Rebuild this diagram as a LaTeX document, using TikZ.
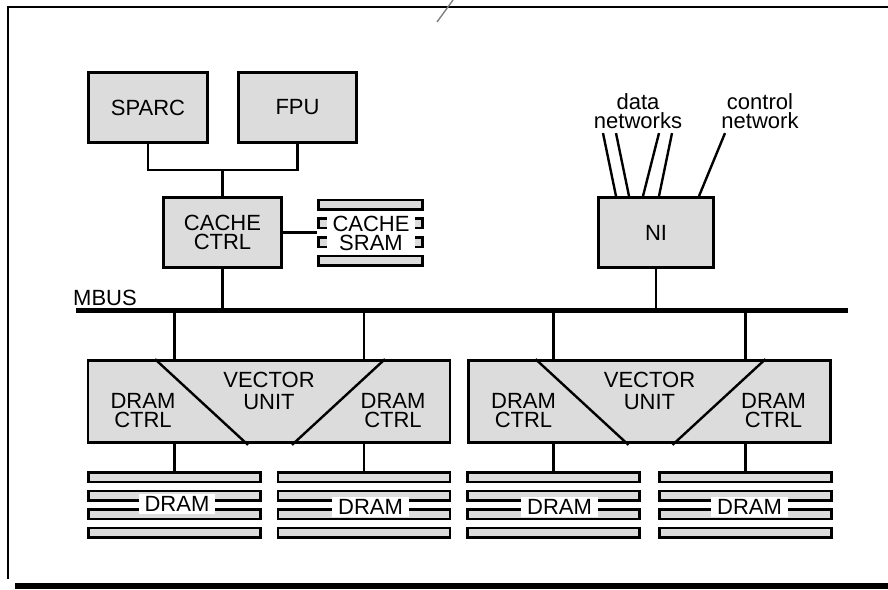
\documentclass[tikz,border=0pt]{standalone}
\usepackage{fontspec}
\setmainfont{Liberation Sans}
\usetikzlibrary{positioning,calc}
\definecolor{boxgray}{HTML}{DCDCDC}

\begin{document}
\begin{tikzpicture}[x=1pt, y=-1pt,
  block/.style={draw, line width=2.8pt, fill=boxgray, inner sep=0pt,
    align=center, font=\fontsize{22}{19}\selectfont},
  bar/.style={draw, line width=2.5pt, fill=boxgray, minimum height=9.5pt,
    inner sep=0pt},
  lbl/.style={fill=white, inner sep=0pt, align=center,
    font=\fontsize{22}{19}\selectfont},
  txt/.style={inner sep=0pt, align=center, font=\fontsize{22}{19}\selectfont},
  wire/.style={line width=2.4pt},
]
\useasboundingbox (0,0) rectangle (888,589);

% Board outline
\draw[line width=2.8pt] (8,579) -- (8,7) -- (890,7);
\draw[gray, line width=1.4pt] (437,22) -- (453,0);
\fill (15,582.5) rectangle (888,589);

% Processor
\node[block, minimum width=119pt, minimum height=70pt] (sparc) at (148,107.5) {SPARC};
\node[block, minimum width=118pt, minimum height=70pt] (fpu) at (297.5,107.5) {FPU};
\node[block, minimum width=118pt, minimum height=70pt] (cachectrl) at (222.5,232.5) {CACHE\\CTRL};

% Cache SRAM
\foreach \i/\y in {1/204.5,2/223.3,3/242.1,4/260.9}
  \node[bar, minimum width=104pt] (sram\i) at (370.5,\y) {};
\node[lbl, minimum width=88pt] (sram) at (371,233) {CACHE\\SRAM};

% Network interface
\node[block, minimum width=115pt, minimum height=70pt] (ni) at (656,232.5) {NI};
\node[txt] (datanet) at (638,111) {data\\networks};
\node[txt] (ctrlnet) at (760,111) {control\\network};

% MBUS
\coordinate (busL) at (76,310);
\coordinate (busR) at (848,310);
\draw[line width=5pt] (busL) -- (busR);
\node[txt, anchor=base west] (mbus) at (73,305) {MBUS};

% Vector units
\foreach \n/\cx in {1/269,2/649.5} {
  \node[block, minimum width=362pt, minimum height=82pt] (vu\n) at (\cx,401.5) {};
  \draw[wire] ($(vu\n.north)+(-114,0)$) -- ($(vu\n.south)+(-21,1)$);
  \draw[wire] ($(vu\n.north)+(116,0)$) -- ($(vu\n.south)+(23,1)$);
  \node[txt, font=\fontsize{22}{22}\selectfont] (vu\n v) at ($(vu\n.center)+(0,-10.5)$) {VECTOR\\UNIT};
  \node[txt] (vu\n l) at ($(vu\n.center)+(-126,9.5)$) {DRAM\\CTRL};
  \node[txt] (vu\n r) at ($(vu\n.center)+(124,9.5)$) {DRAM\\CTRL};
}

% DRAM banks
\foreach \n/\bx/\lx/\ly in {1/174.5/177/504, 2/364/370.5/507,
    3/553.5/559.5/507, 4/745.5/749.5/507} {
  \foreach \i/\by in {1/477,2/495.5,3/514,4/532.5}
    \node[bar, minimum width=172pt] (dram\n\i) at (\bx,\by) {};
  \node[lbl, inner xsep=6pt, inner ysep=2pt] (dram\n) at (\lx,\ly) {DRAM};
}

% Connections
\draw[wire] (sparc.south) -- ++(0,26) -| (fpu.south);
\draw[wire] (cachectrl.north) -- ++(0,-26);
\draw[wire] (cachectrl.east) -- (cachectrl.east -| sram2.west);
\draw[wire] (cachectrl.south) -- (cachectrl.south |- busL);
\draw[wire] (ni.south) -- (ni.south |- busL);
\foreach \b/\t in {-40/-53,-27/-40,-13/3,3/16,43/69}
  \draw[wire] ($(ni.north)+(\b,0)$) -- ($(ni.north)+(\t,-63)$);
\foreach \n/\v in {1/1,2/1,3/2,4/2} {
  \draw[wire] (dram\n1.north |- busL) -- (dram\n1.north |- vu\v.north);
  \draw[wire] (dram\n1.north |- vu\v.south) -- (dram\n1.north);
}

\end{tikzpicture}
\end{document}
